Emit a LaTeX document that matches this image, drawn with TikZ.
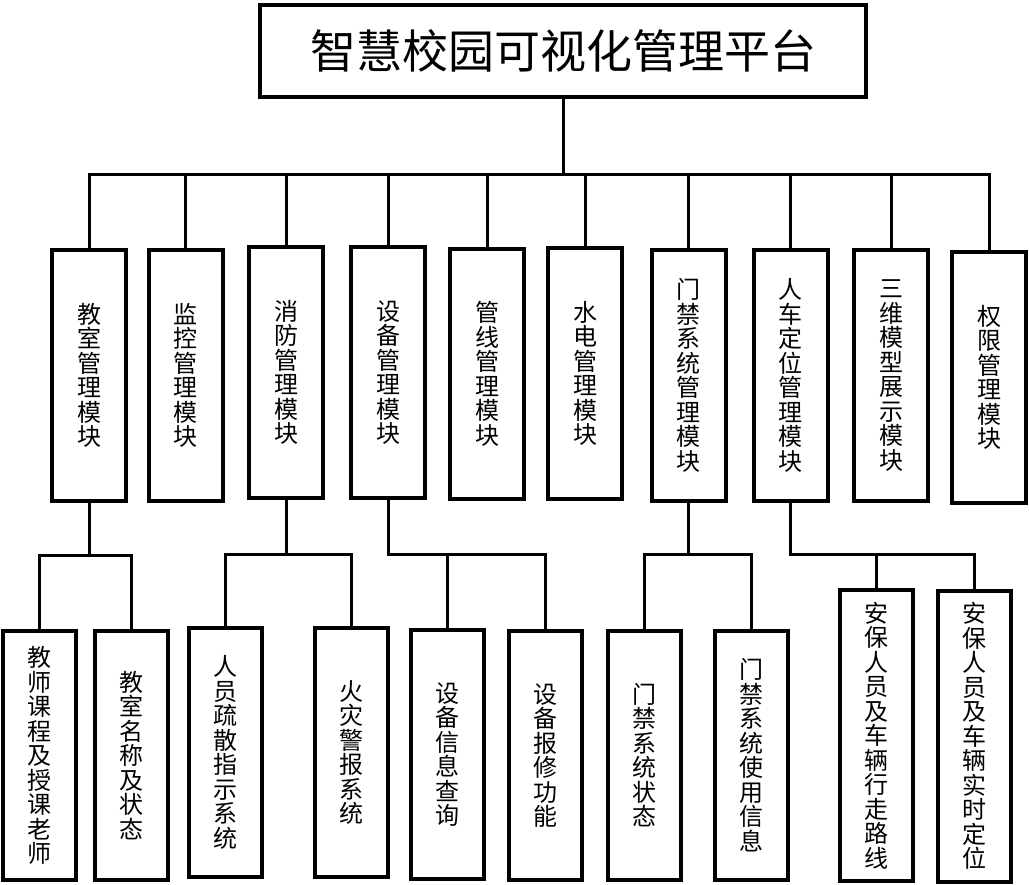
\documentclass[tikz,border=0pt]{standalone}
\usepackage{fontspec}
\newfontfamily\cjk{Noto Sans CJK SC}
\usepackage{tikz}
\usetikzlibrary{positioning}
\tikzstyle{platform} = [rectangle, minimum width=606pt, minimum height=92pt, inner sep=0pt, text centered, draw=black, line width=4pt, font={\cjk\fontsize{46}{50}\selectfont}]
\tikzstyle{module} = [rectangle, minimum width=74pt, minimum height=250pt, inner sep=0pt, align=center, draw=black, line width=4pt, font={\cjk\fontsize{24}{24.5}\selectfont}]
\tikzstyle{leaf} = [module, minimum width=73pt, minimum height=249pt]
\tikzstyle{tallleaf} = [leaf, minimum height=291pt]
\tikzstyle{link} = [line width=3pt, line cap=rect]

\begin{document}
\begin{tikzpicture}[x=1pt, y=-1pt]
		\useasboundingbox (0,0) rectangle (1029,885);
		% top
		\node (top) [platform] at (563,51) {智慧校园可视化管理平台};
		\coordinate (bus) at (563,175);
		% modules
		\node (classroom) [module] at (89,375.5) {教\\室\\管\\理\\模\\块};
		\node (monitor) [module] at (185.5,375.5) {监\\控\\管\\理\\模\\块};
		\node (fire) [module] at (286,372.5) {消\\防\\管\\理\\模\\块};
		\node (device) [module] at (388,372.5) {设\\备\\管\\理\\模\\块};
		\node (pipe) [module] at (487,374) {管\\线\\管\\理\\模\\块};
		\node (water) [module] at (585,373.5) {水\\电\\管\\理\\模\\块};
		\node (access) [module] at (688.5,375.5) {门\\禁\\系\\统\\管\\理\\模\\块};
		\node (locate) [module] at (790.5,375.5) {人\\车\\定\\位\\管\\理\\模\\块};
		\node (model) [module] at (891,375.5) {三\\维\\模\\型\\展\\示\\模\\块};
		\node (auth) [module] at (989,377.5) {权\\限\\管\\理\\模\\块};
		% leaves
		\node (teacher) [leaf] at (39.5,755.5) {教\\师\\课\\程\\及\\授\\课\\老\\师};
		\node (roomstate) [leaf] at (131.5,755.5) {教\\室\\名\\称\\及\\状\\态};
		\node (evacuate) [leaf] at (225.5,752.5) {人\\员\\疏\\散\\指\\示\\系\\统};
		\node (alarm) [leaf] at (351,752.5) {火\\灾\\警\\报\\系\\统};
		\node (devinfo) [leaf] at (447.5,754.5) {设\\备\\信\\息\\查\\询};
		\node (repair) [leaf] at (545,755.5) {设\\备\\报\\修\\功\\能};
		\node (doorstate) [leaf] at (644,755) {门\\禁\\系\\统\\状\\态};
		\node (dooruse) [leaf] at (751.5,755) {门\\禁\\系\\统\\使\\用\\信\\息};
		\node (route) [tallleaf] at (876.5,735.5) {安\\保\\人\\员\\及\\车\\辆\\行\\走\\路\\线};
		\node (realtime) [tallleaf] at (974,736) {安\\保\\人\\员\\及\\车\\辆\\实\\时\\定\\位};
		% top level links
		\draw [link] (top.south) -- (bus);
		\foreach \m in {classroom, monitor, fire, device, pipe, water, access, locate, model, auth}
			\draw [link] (bus) -| (\m.north);
		% second level links
		\draw [link] (classroom.south) -- ++(0,53) coordinate (jclass);
		\draw [link] (jclass) -| (teacher.north);
		\draw [link] (jclass) -| (roomstate.north);
		\draw [link] (fire.south) -- ++(0,55) coordinate (jfire);
		\draw [link] (jfire) -| (evacuate.north);
		\draw [link] (jfire) -| (alarm.north);
		\draw [link] (device.south) -- ++(0,55) coordinate (jdevice);
		\draw [link] (jdevice) -| (devinfo.north);
		\draw [link] (jdevice) -| (repair.north);
		\draw [link] (access.south) -- ++(0,52) coordinate (jaccess);
		\draw [link] (jaccess) -| (doorstate.north);
		\draw [link] (jaccess) -| (dooruse.north);
		\draw [link] (locate.south) -- ++(0,52) coordinate (jlocate);
		\draw [link] (jlocate) -| (route.north);
		\draw [link] (jlocate) -| (realtime.north);
	\end{tikzpicture}
\end{document}
